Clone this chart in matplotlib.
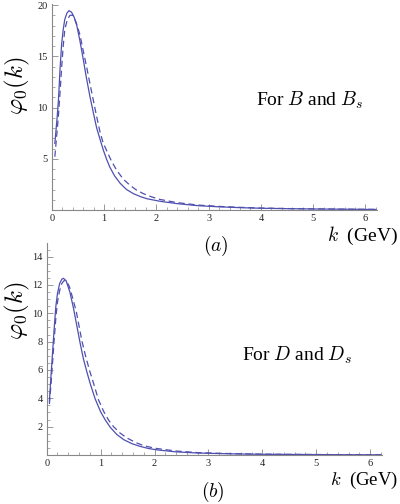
import matplotlib
matplotlib.use("Agg")
import matplotlib.pyplot as plt
from matplotlib.ticker import MultipleLocator

plt.rcParams['mathtext.fontset'] = 'cm'
plt.rcParams['font.family'] = ['Liberation Serif', 'DejaVu Serif']

# ---- data (a): B and B_s ----
k_a_solid = [0.06, 0.10, 0.13, 0.16, 0.19, 0.22, 0.25, 0.29, 0.33, 0.38, 0.43, 0.48, 0.54, 0.60,
             0.66, 0.73, 0.80, 0.86, 0.93, 0.99, 1.05, 1.11, 1.2, 1.31, 1.43, 1.56, 1.7, 1.82,
             2.07, 2.4, 2.8, 3.2, 3.6, 4.0, 4.5, 5.0, 5.5, 6.0, 6.2]
phi_a_solid = [6.5, 8.8, 10.8, 13.8, 16.2, 17.6, 18.6, 19.2, 19.45, 19.3, 18.8, 18.0, 16.5, 14.8,
               13.0, 11.1, 9.4, 8.0, 6.8, 5.8, 4.95, 4.2, 3.35, 2.6, 2.0, 1.6, 1.3, 1.1,
               0.85, 0.62, 0.42, 0.31, 0.23, 0.17, 0.13, 0.10, 0.08, 0.06, 0.05]
k_a_dash = [0.06, 0.10, 0.13, 0.16, 0.19, 0.22, 0.25, 0.3, 0.35, 0.40, 0.46, 0.54, 0.60, 0.67,
            0.74, 0.80, 0.86, 0.92, 0.98, 1.05, 1.14, 1.24, 1.37, 1.50, 1.62, 1.75, 1.9, 2.07,
            2.4, 2.8, 3.2, 3.6, 4.0, 4.5, 5.0, 5.5, 6.0, 6.2]
phi_a_dash = [5.2, 7.5, 9.3, 11.5, 13.9, 16.0, 17.6, 18.6, 19.0, 19.0, 18.4, 17.1, 15.6, 13.9,
              12.1, 10.6, 9.1, 7.7, 6.6, 5.8, 4.8, 3.9, 3.0, 2.4, 1.95, 1.6, 1.3, 1.03,
              0.72, 0.48, 0.35, 0.26, 0.19, 0.14, 0.11, 0.085, 0.065, 0.06]

# ---- data (b): D and D_s ----
k_b_solid = [0.05, 0.08, 0.11, 0.14, 0.17, 0.20, 0.24, 0.28, 0.31, 0.36, 0.43, 0.50, 0.56, 0.62,
             0.68, 0.75, 0.81, 0.90, 1.0, 1.09, 1.18, 1.3, 1.43, 1.58, 1.74, 1.9, 2.05, 2.4,
             2.8, 3.2, 3.6, 4.0, 4.5, 5.0, 5.5, 6.0, 6.2]
phi_b_solid = [3.8, 5.6, 7.3, 9.0, 10.5, 11.4, 12.1, 12.4, 12.47, 12.3, 11.5, 10.3, 9.1, 7.9,
               6.8, 5.8, 5.0, 3.95, 3.05, 2.45, 1.95, 1.45, 1.08, 0.8, 0.6, 0.45, 0.36, 0.22,
               0.14, 0.10, 0.07, 0.05, 0.04, 0.03, 0.02, 0.015, 0.012]
k_b_dash = [0.05, 0.08, 0.11, 0.14, 0.17, 0.20, 0.24, 0.28, 0.32, 0.36, 0.42, 0.48, 0.55, 0.60,
            0.65, 0.72, 0.80, 0.87, 0.96, 1.06, 1.15, 1.24, 1.36, 1.49, 1.65, 1.8, 2.0, 2.4,
            2.8, 3.2, 3.6, 4.0, 4.5, 5.0, 5.5, 6.0, 6.2]
phi_b_dash = [3.6, 5.0, 6.6, 8.2, 9.7, 10.8, 11.6, 12.1, 12.3, 12.3, 11.9, 11.1, 10.1, 9.1,
              8.1, 7.0, 5.9, 5.05, 3.9, 3.05, 2.45, 2.0, 1.55, 1.2, 0.88, 0.66, 0.48, 0.28,
              0.17, 0.12, 0.085, 0.06, 0.045, 0.033, 0.025, 0.018, 0.016]

W, H = 400, 504
fig = plt.figure(figsize=(W / 100, H / 100), dpi=100)

line_color = '#4f4fb0'
axis_color = '#888888'


def make_axes(left_px, right_px, bottom_px, top_px):
    return fig.add_axes([left_px / W, 1 - bottom_px / H,
                         (right_px - left_px) / W, (bottom_px - top_px) / H])


def style(ax, xlim, ylim, ymajor, yminor):
    ax.set_xlim(*xlim)
    ax.set_ylim(*ylim)
    for s in ['top', 'right']:
        ax.spines[s].set_visible(False)
    for s in ['left', 'bottom']:
        ax.spines[s].set_color(axis_color)
        ax.spines[s].set_linewidth(0.8)
    ax.xaxis.set_major_locator(MultipleLocator(1))
    ax.xaxis.set_minor_locator(MultipleLocator(0.2))
    ax.yaxis.set_major_locator(MultipleLocator(ymajor))
    ax.yaxis.set_minor_locator(MultipleLocator(yminor))
    ax.tick_params(which='major', direction='in', length=4, width=0.6, color=axis_color,
                   labelsize=7.5, labelcolor='#222222', pad=3)
    ax.tick_params(which='minor', direction='in', length=2.2, width=0.5, color=axis_color)
    ax.set_facecolor('none')


# (a)
ax1 = make_axes(51.7, 377, 210, 4)
ax1.plot(k_a_solid, phi_a_solid, color=line_color, lw=0.9, clip_on=False)
ax1.plot(k_a_dash, phi_a_dash, color=line_color, lw=0.9, ls=(0, (5, 3)), clip_on=False)
style(ax1, (0, 6.22), (0, 20.1), 5, 1)
ax1.set_yticks([5, 10, 15, 20])
ax1.set_xticks([0, 1, 2, 3, 4, 5, 6])

# (b)
ax2 = make_axes(46.7, 382, 455, 243)
ax2.plot(k_b_solid, phi_b_solid, color=line_color, lw=0.9, clip_on=False)
ax2.plot(k_b_dash, phi_b_dash, color=line_color, lw=0.9, ls=(0, (5, 3)), clip_on=False)
style(ax2, (0, 6.22), (0, 14.96), 2, 0.5)
ax2.set_yticks([2, 4, 6, 8, 10, 12, 14])
ax2.set_xticks([0, 1, 2, 3, 4, 5, 6])


def ftext(xp, yp, s, **kw):
    fig.text(xp / W, 1 - yp / H, s, **kw)


ftext(17, 86, r'$\varphi_0(k)$', fontsize=18, rotation=90, ha='center', va='center')
ftext(17, 311, r'$\varphi_0(k)$', fontsize=18, rotation=90, ha='center', va='center')

ftext(310, 100, r'For $B$ and $B_s$', fontsize=14, ha='center', va='center')
ftext(297, 355, r'For $D$ and $D_s$', fontsize=14, ha='center', va='center')

ftext(398, 236, r'$k$  (GeV)', fontsize=14, ha='right', va='center')
ftext(398, 480, r'$k$  (GeV)', fontsize=13.5, ha='right', va='center')

ftext(216, 246, r'$(a)$', fontsize=14, ha='center', va='center')
ftext(213, 492, r'$(b)$', fontsize=14, ha='center', va='center')

fig.savefig('out.png', dpi=100)
